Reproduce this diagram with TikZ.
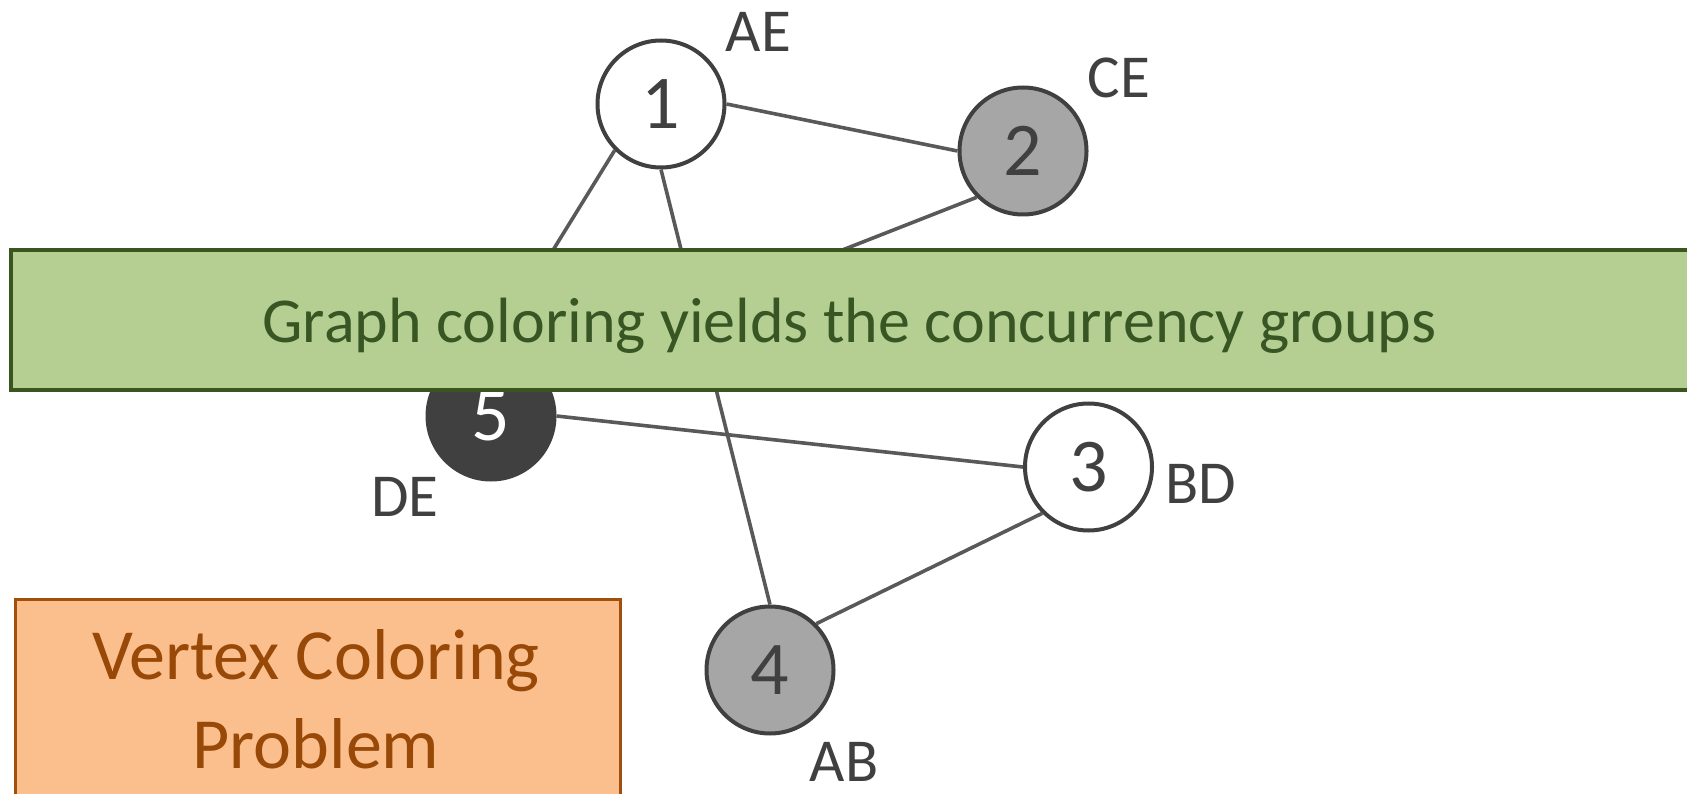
\documentclass[tikz,border=0pt]{standalone}
\usepackage{fontspec}
\setmainfont{Carlito}
\definecolor{nodeline}{HTML}{404040}
\definecolor{edgec}{HTML}{595959}
\definecolor{grayfill}{HTML}{A6A6A6}
\definecolor{darkfill}{HTML}{404040}
\definecolor{greenfill}{HTML}{B5CF92}
\definecolor{greenline}{HTML}{38561D}
\definecolor{greentext}{HTML}{375623}
\definecolor{orangefill}{HTML}{FBBF8E}
\definecolor{orangeline}{HTML}{A0500C}
\definecolor{orangetext}{HTML}{984807}
\begin{document}
\begin{tikzpicture}[x=1pt,y=-1pt,
  vtx/.style={circle, draw=nodeline, line width=4pt, minimum size=127pt, inner sep=0pt,
    font=\fontsize{76}{80}\selectfont, text=nodeline},
  whitev/.style={vtx, fill=white},
  grayv/.style={vtx, fill=grayfill},
  darkv/.style={vtx, fill=darkfill, draw=darkfill, text=white},
  lbl/.style={font=\fontsize{61}{70}\selectfont, text=nodeline, inner sep=0pt, anchor=base},
  edgeline/.style={draw=edgec, line width=3.6pt},
  banner/.style={rectangle, fill=greenfill, draw=greenline, line width=4pt, inner sep=0pt,
    minimum width=1678pt, minimum height=139.5pt, text=greentext,
    font=\fontsize{64}{76}\selectfont, text height=46.5pt, text depth=0pt},
  obox/.style={rectangle, fill=orangefill, draw=orangeline, line width=3pt, inner sep=0pt,
    minimum width=604.5pt, minimum height=250pt, anchor=north west},
  otext/.style={font=\fontsize{72}{89}\selectfont, text=orangetext, inner sep=0pt, anchor=base}
]
\useasboundingbox (0,0) rectangle (1687,794);
\clip (0,0) rectangle (1687,794);

% vertices
\node[whitev] (n1) at (661,104) {1};
\node[grayv]  (n2) at (1023,151) {2};
\node[whitev] (n3) at (1088.5,467) {3};
\node[grayv]  (n4) at (770,670) {4};
\node[darkv]  (n5) at (491,416) {5};

% edges
\draw[edgeline] (n1.east) -- (n2.west);
\draw[edgeline] (n1.south west) -- (n5.north);
\draw[edgeline] (n1.south) -- (n4.north);
\draw[edgeline] (n2.south west) -- (n5.north east);
\draw[edgeline] (n5.east) -- (n3.west);
\draw[edgeline] (n3.south west) -- (n4.north east);

% labels
\node[lbl] (lae) at (758.5,51.7) {AE};
\node[lbl] (lce) at (1119,97.3) {CE};
\node[lbl] (lbd) at (1200.5,503) {BD};
\node[lbl] (lde) at (405,516.7) {DE};
\node[lbl] (lab) at (844,781.7) {AB};

% banner
\node[banner] (bann) at (849.5,319.75) {Graph coloring yields the concurrency groups};

% vertex coloring problem box
\node[obox] (vcp) at (14,598) {};
\node[otext] (vcpa) at (316,679) {Vertex Coloring};
\node[otext] (vcpb) at (316,768) {Problem};
\end{tikzpicture}
\end{document}
